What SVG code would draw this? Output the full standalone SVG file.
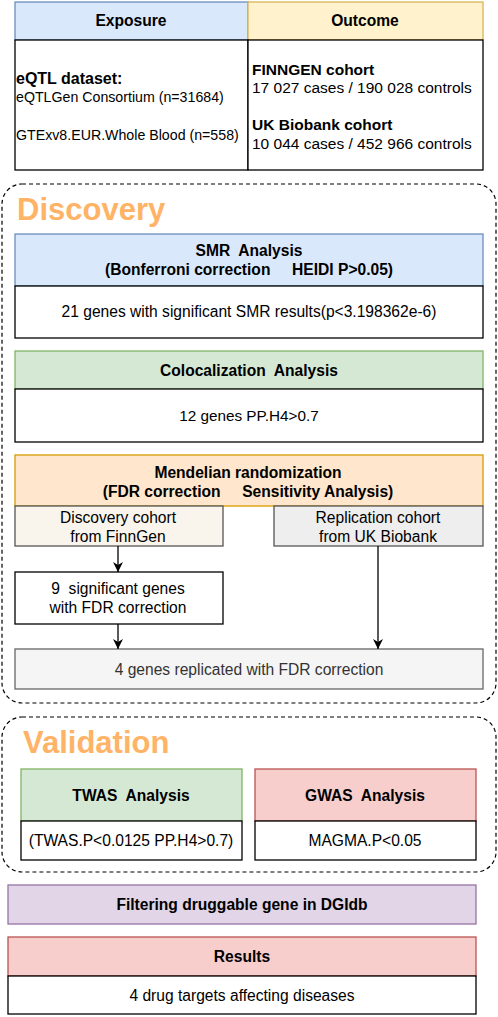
<svg xmlns="http://www.w3.org/2000/svg" width="498" height="1017" viewBox="0 0 498 1017">
<style>
text{font-family:"Liberation Sans",Arial,sans-serif;fill:#000;font-size:15.6px}
.b{font-weight:bold}
.c{text-anchor:middle}
.s14{font-size:14.2px}
.s155{font-size:15.5px}
.sec{fill:none;stroke:#000;stroke-width:1.2;stroke-dasharray:4 3}
.ttl{font-size:31px;font-weight:bold;fill:#FFB366}
.wh{fill:#fff;stroke:#000;stroke-width:1.3}
.blue{fill:#dae8fc;stroke:#6c8ebf;stroke-width:1.3}
.green{fill:#d5e8d4;stroke:#82b366;stroke-width:1.3}
.orange{fill:#ffe6cc;stroke:#d79b00;stroke-width:1.3}
.yellow{fill:#fff2cc;stroke:#d6b656;stroke-width:1.3}
.red{fill:#f8cecc;stroke:#b85450;stroke-width:1.3}
.purple{fill:#e1d5e7;stroke:#9673a6;stroke-width:1.3}
.beige{fill:#f9f5ec;stroke:#555;stroke-width:1.3}
.grey{fill:#eeeeee;stroke:#555;stroke-width:1.3}
.lgrey{fill:#f5f5f5;stroke:#666;stroke-width:1.3}
.edge{stroke:#000;stroke-width:1.3;fill:none;marker-end:url(#arr)}
</style>
<defs>
<marker id="arr" viewBox="0 0 10 10" refX="10" refY="5" markerWidth="10" markerHeight="10" markerUnits="userSpaceOnUse" orient="auto">
<path d="M0,0 L10,5 L0,10 L3,5 Z" fill="#000"/>
</marker>
</defs>
<rect width="498" height="1017" fill="#fff"/>

<g id="table">
<rect class="blue" x="15" y="2" width="233" height="38"/>
<rect class="yellow" x="248" y="2" width="235" height="38"/>
<rect class="wh" x="15" y="40" width="233" height="130"/>
<rect class="wh" x="248" y="40" width="235" height="130"/>
<text class="b c" x="131" y="26">Exposure</text>
<text class="b c" x="365" y="26">Outcome</text>
<text class="b" x="16" y="84" style="font-size:16px">eQTL dataset:</text>
<text class="s14" x="16" y="102">eQTLGen Consortium (n=31684)</text>
<text class="s14" x="16" y="140">GTExv8.EUR.Whole Blood (n=558)</text>
<text class="b s155" x="252" y="75">FINNGEN cohort</text>
<text class="s155" x="252" y="93">17 027 cases / 190 028 controls</text>
<text class="b s155" x="252" y="130">UK Biobank cohort</text>
<text class="s155" x="252" y="149">10 044 cases / 452 966 controls</text>
</g>

<g id="discovery">
<rect class="sec" x="2" y="184" width="494" height="519" rx="20" ry="20"/>
<text class="ttl" x="17" y="220">Discovery</text>
</g>

<g id="smr">
<rect class="blue" x="15" y="234" width="468" height="52"/>
<rect class="wh" x="15" y="286" width="468" height="52"/>
<text class="b c" x="249" y="256" xml:space="preserve">SMR  Analysis</text>
<text class="b c" x="249" y="275" xml:space="preserve">(Bonferroni correction     HEIDI P&gt;0.05)</text>
<text class="c" x="249" y="317">21 genes with significant SMR results(p&lt;3.198362e-6)</text>
</g>

<g id="coloc">
<rect class="green" x="15" y="351" width="468" height="38"/>
<rect class="wh" x="15" y="389" width="468" height="53"/>
<text class="b c" x="249" y="375.5" xml:space="preserve">Colocalization  Analysis</text>
<text class="c" x="249" y="420.5" style="font-size:15.3px">12 genes PP.H4&gt;0.7</text>
</g>

<g id="mr">
<rect class="orange" x="15" y="455" width="468" height="51"/>
<text class="b c" x="248" y="477.5">Mendelian randomization</text>
<text class="b c" x="248" y="496.5" xml:space="preserve">(FDR correction     Sensitivity Analysis)</text>
</g>

<g id="disc-cohort">
<rect class="beige" x="15" y="506" width="208" height="40"/>
<text class="c" x="118" y="522.5">Discovery cohort</text>
<text class="c" x="118" y="541.5">from FinnGen</text>
</g>

<g id="rep-cohort">
<rect class="grey" x="274" y="506" width="209" height="40"/>
<text class="c" x="378" y="522.5">Replication cohort</text>
<text class="c" x="378" y="541.5">from UK Biobank</text>
</g>

<g id="nine-genes">
<rect class="wh" x="15" y="572" width="208" height="52"/>
<text class="c" x="118" y="593.5" xml:space="preserve">9  significant genes</text>
<text class="c" x="118" y="612.5">with FDR correction</text>
</g>

<g id="four-genes">
<rect class="lgrey" x="15" y="649" width="468" height="40"/>
<text class="c" x="249" y="674.5" style="fill:#333">4 genes replicated with FDR correction</text>
</g>

<g id="validation">
<rect class="sec" x="2" y="717" width="494" height="155" rx="20" ry="20"/>
<text class="ttl" x="23" y="753">Validation</text>
</g>

<g id="twas">
<rect class="green" x="21" y="769" width="221" height="52"/>
<rect class="wh" x="21" y="821" width="221" height="39"/>
<text class="b c" x="131" y="800.5" xml:space="preserve">TWAS  Analysis</text>
<text class="c" x="131" y="845.5">(TWAS.P&lt;0.0125 PP.H4&gt;0.7)</text>
</g>

<g id="gwas">
<rect class="red" x="255" y="769" width="221" height="52"/>
<rect class="wh" x="255" y="821" width="221" height="39"/>
<text class="b c" x="365" y="800.5" xml:space="preserve">GWAS  Analysis</text>
<text class="c" x="365" y="845.5">MAGMA.P&lt;0.05</text>
</g>

<g id="dgidb">
<rect class="purple" x="8" y="885" width="468" height="39"/>
<text class="b c" x="242" y="909.5">Filtering druggable gene in DGIdb</text>
</g>

<g id="results">
<rect class="red" x="8" y="937" width="468" height="39"/>
<rect class="wh" x="8" y="976" width="468" height="38"/>
<text class="b c" x="242" y="961.5">Results</text>
<text class="c" x="242" y="1000.5">4 drug targets affecting diseases</text>
</g>

<g id="connectors">
<line class="edge" x1="118" y1="546" x2="118" y2="572"/>
<line class="edge" x1="118" y1="624" x2="118" y2="649"/>
<line class="edge" x1="378" y1="546" x2="378" y2="649"/>
</g>
</svg>
